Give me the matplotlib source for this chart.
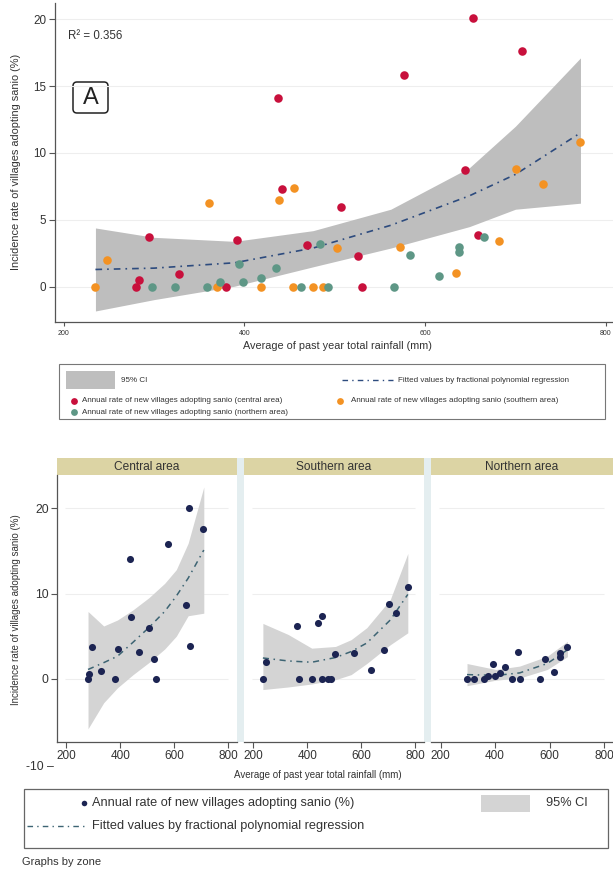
import numpy as np
import matplotlib
matplotlib.use("Agg")
from matplotlib import pyplot as plt
from matplotlib.patches import Rectangle, FancyBboxPatch
from matplotlib.lines import Line2D

plt.rcParams['font.family'] = ['Liberation Sans', 'DejaVu Sans']

# rainfall (mm) and incidence rate (%) per zone
central_x = [653, 707, 577, 437, 644, 441, 507, 294, 392, 469, 659, 526, 328, 283, 280, 380, 530]
central_y = [20.05, 17.6, 15.85, 14.1, 8.7, 7.3, 6.0, 3.75, 3.5, 3.1, 3.9, 2.3, 0.95, 0.55, 0, 0, 0]
southern_x = [772, 701, 730, 455, 438, 361, 502, 572, 682, 248, 634, 235, 370, 418, 454, 476, 487]
southern_y = [10.8, 8.8, 7.7, 7.35, 6.5, 6.25, 2.9, 3.0, 3.4, 2.0, 1.05, 0, 0, 0, 0, 0, 0]
northern_x = [665, 484, 637, 637, 583, 394, 435, 418, 615, 373, 398, 298, 323, 359, 463, 493, 565]
northern_y = [3.7, 3.2, 3.0, 2.6, 2.35, 1.7, 1.4, 0.7, 0.85, 0.35, 0.35, 0, 0, 0, 0, 0, 0]

# fitted curve + 95% CI, all zones pooled
all_fx = [235, 300, 389, 476, 562, 649, 700, 772]
all_fit = [1.3, 1.4, 1.8, 2.9, 4.6, 6.8, 8.4, 11.5]
all_hi = [4.4, 3.7, 3.4, 4.2, 5.8, 8.9, 12.0, 17.1]
all_lo = [-1.8, -0.95, 0.05, 1.5, 2.9, 4.5, 5.8, 6.25]

# per zone fits
cen_fx = [280, 338, 389, 447, 505, 564, 607, 651, 709]
cen_fit = [1.1, 1.9, 2.65, 4.3, 6.0, 7.9, 9.7, 11.8, 15.1]
cen_hi = [7.9, 6.2, 6.9, 8.1, 9.5, 11.2, 12.8, 15.9, 22.5]
cen_lo = [-5.85, -2.8, -1.05, 0.5, 1.9, 3.5, 5.0, 7.4, 7.7]

sou_fx = [235, 329, 416, 504, 562, 620, 707, 772]
sou_fit = [2.45, 2.1, 1.95, 2.5, 3.2, 4.2, 6.9, 9.9]
sou_hi = [6.5, 5.2, 3.6, 3.8, 4.6, 6.0, 9.3, 14.7]
sou_lo = [-1.25, -0.95, -0.6, -0.1, 0.5, 1.8, 4.0, 5.4]

nor_fx = [297, 403, 490, 591, 665]
nor_fit = [0.5, 0.4, 0.7, 1.8, 3.4]
nor_hi = [1.8, 1.1, 1.5, 2.65, 4.4]
nor_lo = [-0.8, -0.15, 0.1, 1.1, 2.6]

zones = ["Central area", "Southern area", "Northern area"]
r2_zone = ["R\u00b2 = 0.558", "R\u00b2 = 0.534", "R\u00b2 = 0.756"]
r2_all = "R\u00b2 = 0.356"
ylab = "Incidence rate of villages adopting sanio (%)"
xlab = "Average of past year total rainfall (mm)"

RED = '#c8103c'
ORANGE = '#f39223'
TEAL = '#5e9786'
NAVY = '#1c2452'
TXT = '#333333'
SPINE = '#555555'
DASH = (0, (4, 3, 1, 3))

W, H = 613, 873
fig = plt.figure(figsize=(W / 100, H / 100), dpi=100)


def box(x0, y0, x1, y1):
    # pixel box -> figure fraction rect
    return [x0 / W, 1 - y1 / H, (x1 - x0) / W, (y1 - y0) / H]


# overlay in pixel coordinates for legends, labels, gaps
ov = fig.add_axes([0, 0, 1, 1])
ov.set_xlim(0, W)
ov.set_ylim(H, 0)
ov.axis('off')

# ---------- panel A ----------
ax = fig.add_axes(box(54.8, 3, 613, 321.7))
ax.set_xlim(190, 808)
ax.set_ylim(-2.6, 21.2)
for v in [0, 5, 10, 15, 20]:
    ax.axhline(v, color='#eeeeee', lw=0.8, zorder=0)
ax.fill_between(all_fx, all_lo, all_hi, color='#bebebe', lw=0, zorder=1)
ax.plot(all_fx, all_fit, color='#2d4b7e', lw=1.2, ls=DASH, zorder=2)
ax.scatter(central_x, central_y, s=38, color=RED, zorder=3, lw=0)
ax.scatter(southern_x, southern_y, s=38, color=ORANGE, zorder=3, lw=0)
ax.scatter(northern_x, northern_y, s=38, color=TEAL, zorder=3, lw=0)
ax.set_xticks([200, 400, 600, 800])
ax.set_yticks([0, 5, 10, 15, 20])
ax.tick_params(axis='x', labelsize=5, colors=SPINE, labelcolor=TXT, length=3, pad=3)
ax.tick_params(axis='y', labelsize=8.4, colors=SPINE, labelcolor=TXT, length=4, pad=2)
for s in ['top', 'right']:
    ax.spines[s].set_visible(False)
for s in ['left', 'bottom']:
    ax.spines[s].set_color(SPINE)
    ax.spines[s].set_linewidth(0.9)
ax.patch.set_alpha(0)

ov.text(68, 36, r2_all, fontsize=8.3, color=TXT, va='center')
ov.add_patch(FancyBboxPatch((73, 82), 35, 31, boxstyle="round,pad=0,rounding_size=4",
                            fc='white', ec='#222222', lw=1.1, zorder=5))
ov.text(90.5, 98, "A", fontsize=17, ha='center', va='center', color='#222222', zorder=6)
ov.text(15.6, 162, ylab, rotation=90, fontsize=7.9, color=TXT, ha='center', va='center')
ov.text(337, 346, xlab, fontsize=7.8, color=TXT, ha='center', va='center')

# legend A
ov.add_patch(Rectangle((59, 364), 546, 55, fc='white', ec='#777777', lw=0.8))
ov.add_patch(Rectangle((66, 371), 49, 18, fc='#bebebe', lw=0))
fs = 5.8
ov.text(121, 380, "95% CI", fontsize=fs, color=TXT, va='center')
ov.add_line(Line2D([342, 393], [380, 380], color='#2d4b7e', lw=1.0, ls=DASH))
ov.text(398, 380, "Fitted values by fractional polynomial regression", fontsize=fs, color=TXT, va='center')
ov.scatter([74], [401], s=24, color=RED, lw=0)
ov.text(82, 401, "Annual rate of new villages adopting sanio (central area)", fontsize=fs, color=TXT, va='center')
ov.scatter([339.5], [401], s=24, color=ORANGE, lw=0)
ov.text(351, 401, "Annual rate of new villages adopting sanio (southern area)", fontsize=fs, color=TXT, va='center')
ov.scatter([74], [412], s=24, color=TEAL, lw=0)
ov.text(82, 412, "Annual rate of new villages adopting sanio (northern area)", fontsize=fs, color=TXT, va='center')

# ---------- panel B ----------
panels = [(57, 237), (244, 424), (431, 613)]
px_ = [central_x, southern_x, northern_x]
py_ = [central_y, southern_y, northern_y]
fits = [(cen_fx, cen_fit, cen_hi, cen_lo), (sou_fx, sou_fit, sou_hi, sou_lo), (nor_fx, nor_fit, nor_hi, nor_lo)]
r2x = [68, 258, 444]

# light gaps between panels
for g0, g1 in [(237, 244), (424, 431)]:
    ov.add_patch(Rectangle((g0, 458), g1 - g0, 742 - 458, fc='#e4eef0', lw=0))

for i, (x0, x1) in enumerate(panels):
    # strip
    ov.add_patch(Rectangle((x0, 458), x1 - x0, 17, fc='#dcd4a4', lw=0))
    ov.text((x0 + x1) / 2, 466.5, zones[i], fontsize=8.6, color=TXT, ha='center', va='center')
    b = fig.add_axes(box(x0, 475, x1, 742))
    b.set_xlim(165, 832)
    b.set_ylim(-7.4, 23.9)
    b.hlines([0, 10, 20], 195, 800, color='#eeeeee', lw=0.8, zorder=0)
    fx, fy, hi, lo = fits[i]
    b.fill_between(fx, lo, hi, color='#d4d4d4', lw=0, zorder=1)
    b.plot(fx, fy, color='#3d6473', lw=1.1, ls=DASH, zorder=2)
    b.scatter(px_[i], py_[i], s=26, color=NAVY, lw=0, zorder=3)
    b.set_xticks([200, 400, 600, 800])
    b.tick_params(axis='x', labelsize=8.5, colors=SPINE, labelcolor=TXT, length=4, pad=2)
    for s in ['top', 'right']:
        b.spines[s].set_visible(False)
    b.spines['bottom'].set_color(SPINE)
    b.spines['bottom'].set_linewidth(0.9)
    if i == 0:
        b.set_yticks([0, 10, 20])
        b.tick_params(axis='y', labelsize=8.8, colors=SPINE, labelcolor=TXT, length=4, pad=2)
        b.spines['left'].set_color(SPINE)
        b.spines['left'].set_linewidth(0.9)
        b.text(-0.02, -10.3, "-10 \u2013", transform=b.get_yaxis_transform(), fontsize=8.8,
               color=TXT, ha='right', va='center', clip_on=False)
    else:
        b.set_yticks([])
        b.spines['left'].set_visible(False)
    ov.text(r2x[i], 493, r2_zone[i], fontsize=8.6, color=TXT, va='center', zorder=6)

ov.add_patch(FancyBboxPatch((63, 533), 35, 35, boxstyle="round,pad=0,rounding_size=4",
                            fc='white', ec='#222222', lw=1.1, zorder=5))
ov.text(80.5, 550.5, "B", fontsize=17, ha='center', va='center', color='#222222', zorder=6)
ov.text(15.6, 610, ylab, rotation=90, fontsize=7, color=TXT, ha='center', va='center')
ov.text(318, 775, xlab, fontsize=7, color=TXT, ha='center', va='center')

# legend B
ov.add_patch(Rectangle((23.5, 789), 584.5, 59, fc='white', ec='#666666', lw=0.9))
ov.scatter([84], [803], s=16, color=NAVY, lw=0)
ov.text(92, 803, "Annual rate of new villages adopting sanio (%)", fontsize=9.2, color=TXT, va='center')
ov.add_patch(Rectangle((481, 795), 49, 17, fc='#d4d4d4', lw=0))
ov.text(546, 803, "95% CI", fontsize=9.2, color=TXT, va='center')
ov.add_line(Line2D([27, 84], [826, 826], color='#3d6473', lw=1.0, ls=DASH))
ov.text(92, 826, "Fitted values by fractional polynomial regression", fontsize=9.2, color=TXT, va='center')
ov.text(21.5, 862, "Graphs by zone", fontsize=8, color=TXT, va='center')

fig.savefig("out.png", dpi=100)
